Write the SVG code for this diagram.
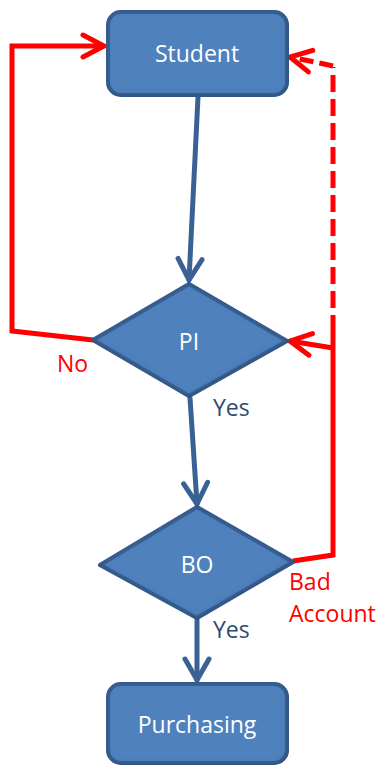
<svg xmlns="http://www.w3.org/2000/svg" width="378" height="765" viewBox="0 0 378 765">
  <style>
    .shape { fill: #4F81BD; stroke: #3A6194; stroke-width: 4; stroke-linejoin: round; }
    .node-text { font-family: "Open Sans", "Liberation Sans", sans-serif; font-size: 23px; fill: #FFFFFF; text-anchor: middle; }
    .flow { fill: none; stroke: #3A6194; stroke-width: 5; stroke-linecap: round; }
    .back { fill: none; stroke: #FF0000; stroke-width: 5; stroke-linejoin: miter; }
    .dashed { stroke-dasharray: 17 7; }
    .label { font-family: "Open Sans", "Liberation Sans", sans-serif; font-size: 23px; }
    .label-yes { fill: #2E4A72; }
    .label-red { fill: #FF0000; }
  </style>
  <defs>
    <!-- soft inner shadow along the shape edges -->
    <filter id="innerShade" x="-10%" y="-10%" width="120%" height="120%">
      <feComponentTransfer in="SourceAlpha" result="inv">
        <feFuncA type="table" tableValues="1 0"/>
      </feComponentTransfer>
      <feGaussianBlur in="inv" stdDeviation="3" result="blur"/>
      <feOffset dx="-1" dy="-1" result="off"/>
      <feFlood flood-color="#1F3A60" flood-opacity="0.6"/>
      <feComposite in2="off" operator="in" result="shade"/>
      <feComposite in="shade" in2="SourceAlpha" operator="in" result="inner"/>
      <feMerge>
        <feMergeNode in="SourceGraphic"/>
        <feMergeNode in="inner"/>
      </feMerge>
    </filter>
    <marker id="blueHead" viewBox="-25 -14 30 28" markerWidth="30" markerHeight="28" refX="0" refY="0" orient="auto" markerUnits="userSpaceOnUse" overflow="visible">
      <path d="M -21 -12 L 0 0 L -21 12" fill="none" stroke="#3A6194" stroke-width="5" stroke-linecap="round" stroke-linejoin="miter"/>
    </marker>
    <marker id="redHead" viewBox="-25 -14 30 28" markerWidth="30" markerHeight="28" refX="0" refY="0" orient="auto" markerUnits="userSpaceOnUse" overflow="visible">
      <path d="M -21 -11 L 0 0 L -21 11" fill="none" stroke="#FF0000" stroke-width="5" stroke-linecap="round" stroke-linejoin="miter"/>
    </marker>
  </defs>

  <g id="connectors">
    <!-- main flow -->
    <path class="flow" d="M 198 97 L 189 280" marker-end="url(#blueHead)"/>
    <path class="flow" d="M 190 398 L 197 504" marker-end="url(#blueHead)"/>
    <path class="flow" d="M 197 620 L 197 680" marker-end="url(#blueHead)"/>
    <!-- PI "No" back to Student -->
    <path class="back" d="M 93 340 L 12 331 L 12 46 L 104 46" marker-end="url(#redHead)"/>
    <!-- BO "Bad Account" back to PI -->
    <path class="back" d="M 293 561 L 333 555 L 333 332"/>
    <path class="back" d="M 333 348 L 290 341" marker-end="url(#redHead)"/>
    <!-- dashed return up to Student -->
    <path class="back dashed" d="M 333 332 L 333 67"/>
    <path class="back" d="M 333 66 L 315 62 L 290 57" marker-end="url(#redHead)" stroke-dasharray="14 6"/>
  </g>

  <g id="student">
    <rect class="shape" x="108" y="12" width="179" height="83" rx="13" filter="url(#innerShade)"/>
    <text class="node-text" x="197" y="62">Student</text>
  </g>

  <g id="pi">
    <polygon class="shape" points="189,284 287,341 189,396 93,340" filter="url(#innerShade)"/>
    <text class="node-text" x="189" y="350">PI</text>
  </g>

  <g id="bo">
    <polygon class="shape" points="197,507 293,562 197,618 100,565" filter="url(#innerShade)"/>
    <text class="node-text" x="197" y="573">BO</text>
  </g>

  <g id="purchasing">
    <rect class="shape" x="108" y="684" width="179" height="79" rx="13" filter="url(#innerShade)"/>
    <text class="node-text" x="197" y="733">Purchasing</text>
  </g>

  <g id="labels">
    <text class="label label-red" x="57" y="372">No</text>
    <text class="label label-yes" x="213" y="416">Yes</text>
    <text class="label label-red" x="289" y="590">Bad</text>
    <text class="label label-red" x="289" y="622">Account</text>
    <text class="label label-yes" x="213" y="638">Yes</text>
  </g>
</svg>
